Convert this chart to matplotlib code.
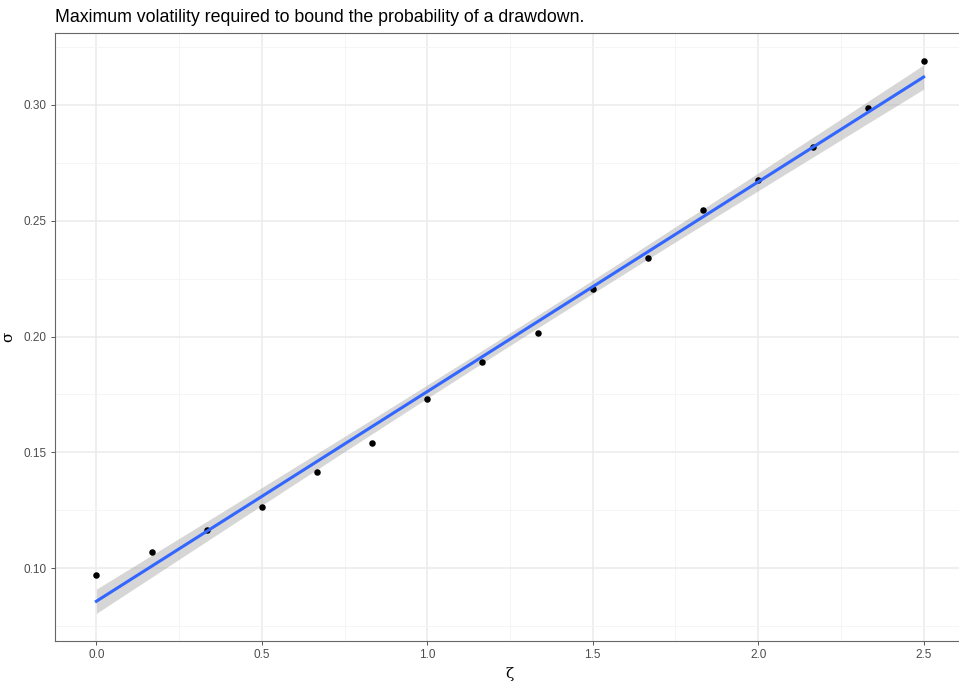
import numpy as np
import matplotlib
matplotlib.use("Agg")
import matplotlib.pyplot as plt
from matplotlib.ticker import MultipleLocator

plt.rcParams['font.family'] = ['Liberation Sans', 'DejaVu Sans']

# zeta values and the maximum sigma
zeta = [0.0, 1/6, 2/6, 0.5, 4/6, 5/6, 1.0, 7/6, 8/6, 1.5, 10/6, 11/6, 2.0, 13/6, 14/6, 2.5]
sigma = [0.0970, 0.1070, 0.1164, 0.1266, 0.1414, 0.1539, 0.1730, 0.1892,
         0.2014, 0.2203, 0.2341, 0.2547, 0.2675, 0.2820, 0.2987, 0.3188]

x_ticks = [0.0, 0.5, 1.0, 1.5, 2.0, 2.5]
y_ticks = [0.10, 0.15, 0.20, 0.25, 0.30]
title = "Maximum volatility required to bound the probability of a drawdown."


def lm_fit(x, y, n_grid=80, t_crit=2.145):
    x = np.asarray(x)
    y = np.asarray(y)
    n = len(x)
    slope, icpt = np.polyfit(x, y, 1)
    resid = y - (icpt + slope * x)
    s = np.sqrt(np.sum(resid ** 2) / (n - 2))
    xg = np.linspace(x.min(), x.max(), n_grid)
    yg = icpt + slope * xg
    se = s * np.sqrt(1 / n + (xg - x.mean()) ** 2 / np.sum((x - x.mean()) ** 2))
    return xg, yg, yg - t_crit * se, yg + t_crit * se


fig = plt.figure(figsize=(9.59, 6.81), dpi=100)
# panel runs a little past the right edge, as in the original (cropped)
ax = fig.add_axes([55 / 959, 40 / 681, 910 / 959, 608 / 681])

xg, yg, lo, hi = lm_fit(zeta, sigma)
ax.scatter(zeta, sigma, s=22, color="black", zorder=3, linewidths=0)
ax.fill_between(xg, lo, hi, color="#999999", alpha=0.4, linewidth=0, zorder=2)
ax.plot(xg, yg, color="#3366FF", linewidth=2.2, zorder=4)

ax.set_xlim(-0.125, 2.625)
ax.set_ylim(0.0686, 0.331)
ax.set_xticks(x_ticks)
ax.set_yticks(y_ticks)
ax.set_xticklabels(["%.1f" % v for v in x_ticks])
ax.set_yticklabels(["%.2f" % v for v in y_ticks])
ax.xaxis.set_minor_locator(MultipleLocator(0.25))
ax.yaxis.set_minor_locator(MultipleLocator(0.025))

ax.grid(which="major", color="#EBEBEB", linewidth=1.1, zorder=0)
ax.grid(which="minor", color="#F4F4F4", linewidth=0.6, zorder=0)
ax.set_axisbelow(True)
ax.tick_params(which="major", length=3, width=0.7, color="#555555",
               labelsize=8.5, labelcolor="#4D4D4D", pad=3)
ax.tick_params(which="minor", length=0)
for sp in ax.spines.values():
    sp.set_color("#666666")
    sp.set_linewidth(0.8)

ax.set_xlabel("ζ", fontsize=11, labelpad=4, family="DejaVu Serif")
ax.set_ylabel("σ", fontsize=11, labelpad=6, family="DejaVu Serif")
ax.set_title(title, loc="left", fontsize=12.75, pad=8)

fig.savefig("out.png", dpi=100)
